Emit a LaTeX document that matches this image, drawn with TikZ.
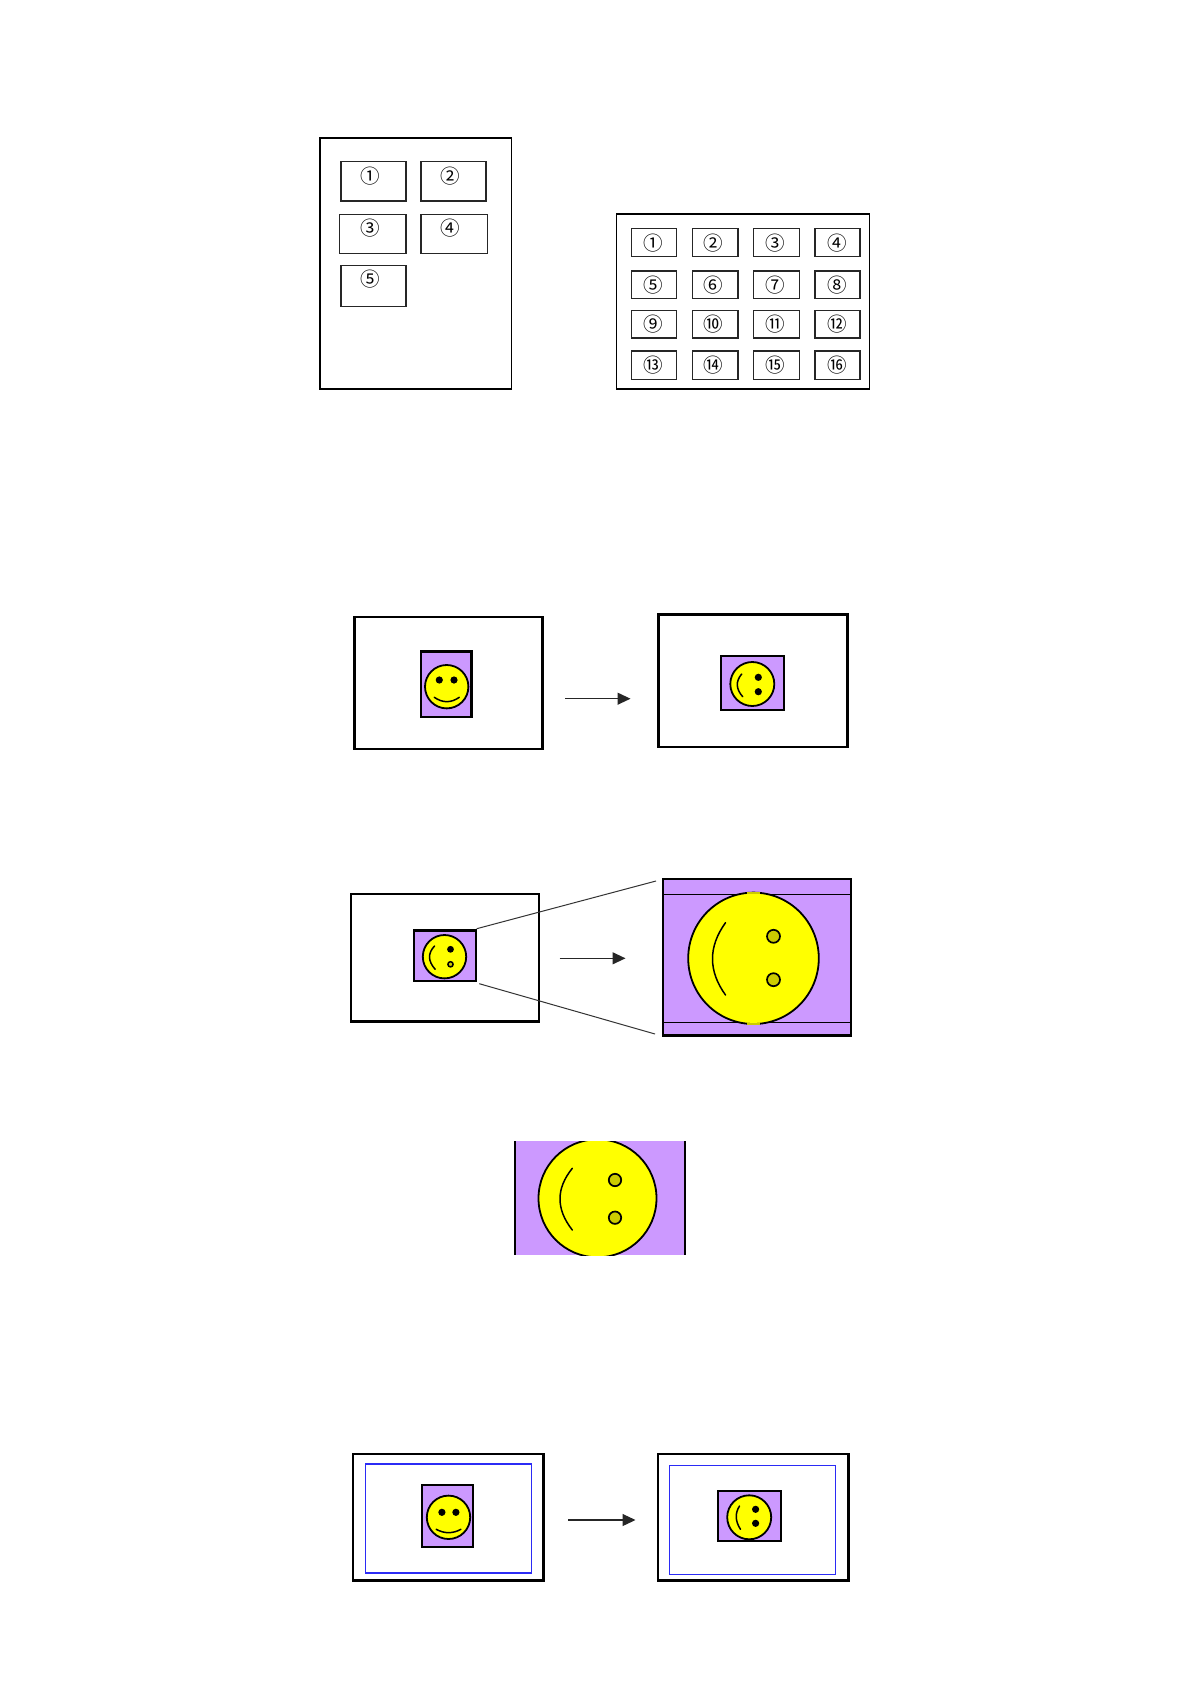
\documentclass[tikz,border=0pt]{standalone}
\usepackage{fontspec}
\setmainfont{DejaVu Sans}
\newfontfamily\circfont{Noto Sans CJK JP}
\usetikzlibrary{arrows.meta,calc}
\definecolor{lilac}{RGB}{204,153,255}
\definecolor{olivey}{RGB}{204,204,0}
\definecolor{sunny}{RGB}{255,255,0}
\definecolor{frameblue}{RGB}{43,43,245}
\tikzset{
  sheet/.style={draw=black,line width=1.3pt},
  frame/.style={draw=black,line width=2.7pt},
  slot/.style={draw=black!85,line width=1.3pt},
  photo/.style={draw=black,line width=2.2pt,fill=lilac},
  inset/.style={draw=frameblue,line width=1.3pt},
  facebody/.style={draw=black,line width=1.8pt,fill=sunny},
  mouth/.style={draw=black,line width=1.5pt,line cap=round},
  num/.style={inner sep=0pt,font=\circfont\fontsize{19.5}{19.5}\selectfont},
  flow/.style={draw=black!85,line width=1.2pt,-{Triangle[length=13pt,width=12pt]}},
  zoomline/.style={draw=black!80,line width=1pt}
}
\newcommand{\eyedot}[3]{\fill[black] (#1,#2) circle (#3);}
\newcommand{\bigeye}[3]{\draw[draw=black,line width=1.7pt,fill=olivey] (#1,#2) circle (#3);}
% quadratic curve from a to c with control point q
\newcommand{\mouthcurve}[3]{\draw[mouth] (#1) .. controls ($(#1)!.667!(#2)$) and ($(#3)!.667!(#2)$) .. (#3);}
\begin{document}
\begin{tikzpicture}[x=1pt,y=-1pt]
\useasboundingbox[fill=white] (0,0) rectangle (1190,1683);

% --- page layouts ---
\draw[sheet] (320,138) rectangle (511.5,389);
\draw[slot] (341,161.7) rectangle (406,201);
\draw[slot] (421,161.7) rectangle (486,201);
\draw[slot] (339.3,214.3) rectangle (406,253.7);
\draw[slot] (421,214.3) rectangle (487.5,253.7);
\draw[slot] (341,265.3) rectangle (406,306.3);
\node[num] (a1) at (370,175.7) {①};
\node[num] (a2) at (450,175.7) {②};
\node[num] (a3) at (370,228.3) {③};
\node[num] (a4) at (450,228.3) {④};
\node[num] (a5) at (370,279) {⑤};

\draw[sheet] (616.3,214) rectangle (869.5,389);
\foreach \xa/\xb in {631.5/676.5,692.5/738,753.5/799.5,815/860}
  \foreach \ya/\yb in {228.7/256.3,271/298.7,310.3/338,351/379.7}
    \draw[slot] (\xa,\ya) rectangle (\xb,\yb);
\node[num] (b1) at (652.8,242.7) {①};
\node[num] (b2) at (713.6,242.7) {②};
\node[num] (b3) at (775.2,242.7) {③};
\node[num] (b4) at (837,242.7) {④};
\node[num] (b5) at (652.8,285) {⑤};
\node[num] (b6) at (713.6,285) {⑥};
\node[num] (b7) at (775.2,285) {⑦};
\node[num] (b8) at (837,285) {⑧};
\node[num] (b9) at (652.8,324.3) {⑨};
\node[num] (b10) at (713.6,324.3) {⑩};
\node[num] (b11) at (775.2,324.3) {⑪};
\node[num] (b12) at (837,324.3) {⑫};
\node[num] (b13) at (652.8,365) {⑬};
\node[num] (b14) at (713.6,365) {⑭};
\node[num] (b15) at (775.2,365) {⑮};
\node[num] (b16) at (837,365) {⑯};

% --- row 1: rotation ---
\draw[frame] (354.3,617) rectangle (542.7,749);
\draw[photo] (421,651.5) rectangle (471.5,717.3);
\draw[facebody] (446.7,686.7) circle (21.7);
\eyedot{439.3}{680}{3.6}\eyedot{454}{680}{3.6}
\mouthcurve{434.3,697.3}{446.8,706}{459.3,697.3}

\draw[frame] (658.6,614.3) rectangle (847.3,747);
\draw[photo] (721,656.3) rectangle (783.6,709.7);
\draw[facebody] (752.3,684) circle (22);
\eyedot{758.3}{677.3}{3.6}\eyedot{758.3}{691.7}{3.6}
\mouthcurve{741.7,674}{732.4,685}{742.7,696.7}

\coordinate (r1a) at (565,698.7);
\coordinate (r1b) at (630.5,698.7);
\draw[flow] (r1a) -- (r1b);

% --- row 2: enlargement ---
\draw[frame] (351,894) rectangle (539,1021.7);
\draw[photo] (414,930.5) rectangle (476,981.3);
\draw[facebody] (444.5,956.7) circle (21.7);
\eyedot{450.5}{949.3}{3.4}
\draw[black,line width=1.5pt,fill=olivey] (450.5,964.3) circle (2.6);
\mouthcurve{434.5,946}{424.2,957}{435.2,969.3}

\draw[photo,line width=2.4pt] (663,879) rectangle (851,1035.3);
\draw[black,line width=1pt] (663,894.3) -- (851,894.3);
\draw[black,line width=1pt] (663,1022) -- (851,1022);
\draw[facebody] (753.5,958.3) ellipse (65.3 and 65.7);
\fill[olivey] (746.7,891.7) rectangle (760.2,893.7);
\fill[olivey] (746.7,1023) rectangle (760.2,1025);
\bigeye{773.5}{936.3}{6.5}
\bigeye{773.5}{979.7}{6.5}
\mouthcurve{725.5,922.7}{699.5,958.8}{725.5,995}

\coordinate (z1a) at (476.7,928.7);
\coordinate (z1b) at (656,881);
\coordinate (z2a) at (479.3,983.7);
\coordinate (z2b) at (655,1034);
\draw[zoomline] (z1a) -- (z1b);
\draw[zoomline] (z2a) -- (z2b);
\coordinate (r2a) at (559.5,958.3);
\coordinate (r2b) at (625.5,958.3);
\draw[flow] (r2a) -- (r2b);

% --- cropped picture ---
\fill[lilac] (515,1141) rectangle (685,1255);
\begin{scope}
  \clip (515,1141) rectangle (685,1255);
  \draw[facebody] (597.5,1198.3) circle (59);
\end{scope}
\draw[black,line width=2pt] (515.3,1141) -- (515.3,1255);
\draw[black,line width=2pt] (685,1141) -- (685,1255);
\bigeye{615}{1180}{6.2}
\bigeye{615}{1217.7}{6.2}
\mouthcurve{572.3,1168.3}{547.7,1198.7}{572.3,1230}

% --- row 3: with inner margin ---
\draw[frame] (353,1454) rectangle (543.3,1580.3);
\draw[inset] (365.7,1464) rectangle (531.7,1573);
\draw[photo] (422,1485) rectangle (472.7,1547);
\draw[facebody] (448.5,1517.3) circle (21.7);
\eyedot{441.9}{1512.3}{3.6}\eyedot{455.9}{1512.3}{3.6}
\mouthcurve{436.2,1529.3}{448.5,1536}{460.9,1529.3}

\draw[frame] (658,1454) rectangle (848.7,1580.3);
\draw[inset] (669.7,1465.3) rectangle (835.3,1574.3);
\draw[photo] (718.3,1491.3) rectangle (781,1541);
\draw[facebody] (749.2,1517.3) circle (22);
\eyedot{755.6}{1509.3}{3.6}\eyedot{755.6}{1523.3}{3.6}
\mouthcurve{739.5,1506}{732.5,1517}{740.5,1529.3}

\coordinate (r3a) at (568.3,1520);
\coordinate (r3b) at (635.5,1520);
\draw[flow] (r3a) -- (r3b);
\end{tikzpicture}
\end{document}
